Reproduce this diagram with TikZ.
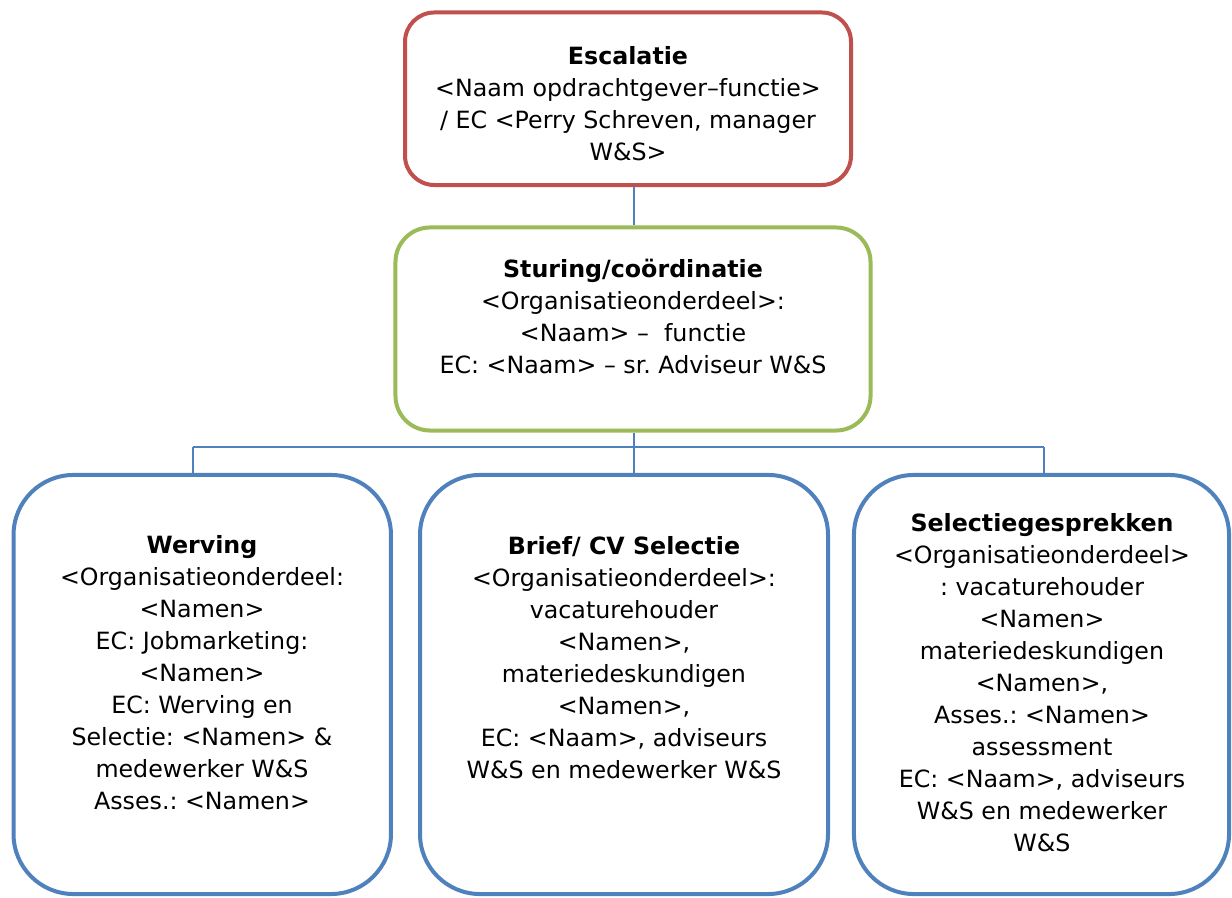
\documentclass[tikz,border=0pt]{standalone}
\usepackage{fontspec}
\setmainfont{DejaVu Sans}
\frenchspacing
\definecolor{escred}{HTML}{C0504D}
\definecolor{stgreen}{HTML}{9BBB59}
\definecolor{boxblue}{HTML}{4F81BD}
\begin{document}
\begin{tikzpicture}[x=0.75pt,y=-0.75pt,
  box/.style={draw, line width=3pt, fill=white, inner sep=0pt, rectangle},
  txt/.style={align=center, inner sep=0pt, font=\fontsize{17.8}{24}\selectfont\frenchspacing, text=black},
  conn/.style={draw=boxblue, line width=1.1pt}]
\useasboundingbox (0,0) rectangle (1232,898);
% boxes
\node[box, draw=escred, rounded corners=22pt, minimum width=334.5pt, minimum height=129.4pt] (esc) at (628,98.75) {};
\node[box, draw=stgreen, rounded corners=26pt, minimum width=356.3pt, minimum height=152.3pt] (stu) at (633,329) {};
\node[box, draw=boxblue, rounded corners=45pt, minimum width=283.1pt, minimum height=314.3pt] (wer) at (202.25,684.5) {};
\node[box, draw=boxblue, rounded corners=45pt, minimum width=306pt, minimum height=314.3pt] (bri) at (624,684.5) {};
\node[box, draw=boxblue, rounded corners=45pt, minimum width=281.3pt, minimum height=314.3pt] (sel) at (1041.5,684.5) {};
% connectors
\coordinate (hl) at (193,447);
\coordinate (hm) at (634,447);
\coordinate (hr) at (1044,447);
\draw[conn] (esc.south -| hm) -- (stu.north -| hm);
\draw[conn] (stu.south -| hm) -- (hm);
\draw[conn] (hl) -- (hr);
\draw[conn] (hl) -- (wer.north -| hl);
\draw[conn] (hm) -- (bri.north -| hm);
\draw[conn] (hr) -- (sel.north -| hr);
% texts
\node[txt] (esct) at (628,103.5) {\textbf{Escalatie}\\<Naam opdrachtgever–functie>\\/ EC <Perry Schreven, manager\\W\&S>};
\node[txt] (stut) at (633,316) {\textbf{Sturing/coördinatie}\\<Organisatieonderdeel>:\\<Naam> –~~functie\\EC: <Naam> – sr. Adviseur W\&S};
\node[txt] (wert) at (202,672.5) {\textbf{Werving}\\<Organisatieonderdeel:\\<Namen>\\EC: Jobmarketing:\\<Namen>\\EC: Werving en\\Selectie: <Namen> \&\\medewerker W\&S\\Asses.: <Namen>};
\node[txt] (brit) at (624,657.5) {\textbf{Brief/ CV Selectie}\\<Organisatieonderdeel>:\\vacaturehouder\\<Namen>,\\materiedeskundigen\\<Namen>,\\EC: <Naam>, adviseurs\\W\&S en medewerker W\&S};
\node[txt] (selt) at (1042,683) {\textbf{Selectiegesprekken}\\<Organisatieonderdeel>\\: vacaturehouder\\<Namen>\\materiedeskundigen\\<Namen>,\\Asses.: <Namen>\\assessment\\EC: <Naam>, adviseurs\\W\&S en medewerker\\W\&S};
\end{tikzpicture}
\end{document}
